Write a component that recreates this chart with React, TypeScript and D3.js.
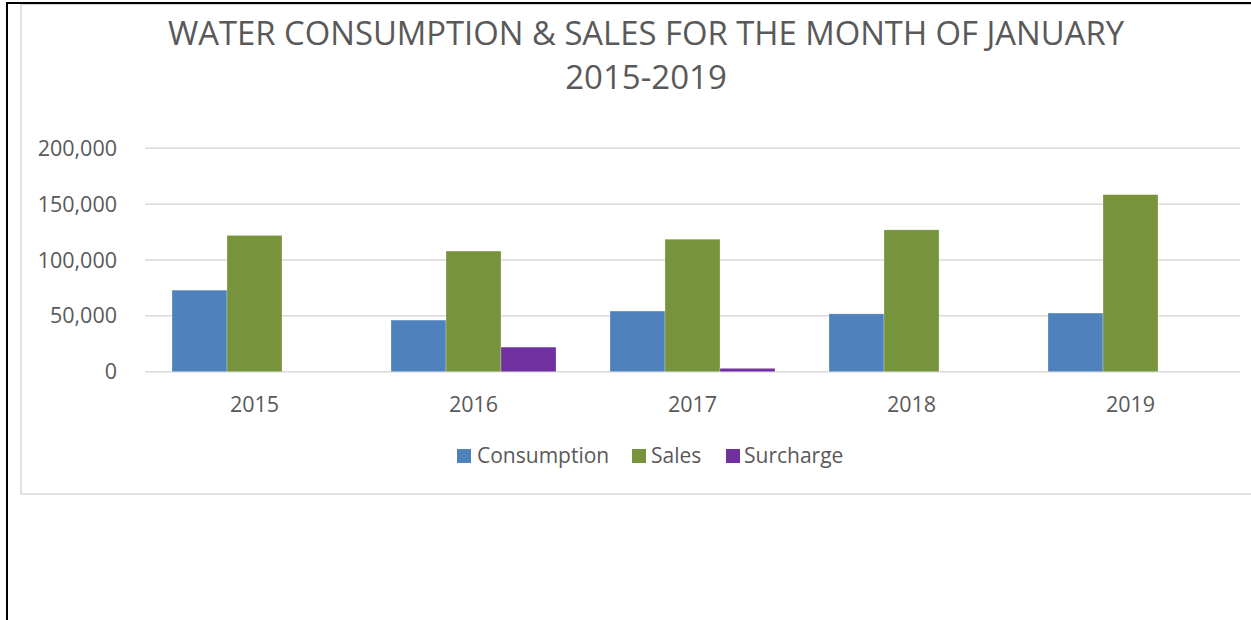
import React from "react";
import * as d3 from "d3";

const years = ["2015", "2016", "2017", "2018", "2019"];
const seriesNames = ["Consumption", "Sales", "Surcharge"];
const consumption = [73000, 46200, 54300, 51800, 52500];
const sales = [122000, 108000, 118600, 127000, 158500];
const surcharge = [0, 22000, 3000, 0, 0];
const yTicks = [0, 50000, 100000, 150000, 200000];
const colors = ["#4F81BD", "#77933C", "#7030A0"];

const W = 1251;
const H = 620;
const FONT = "'Open Sans', sans-serif";
const TXT = "#595959";

export default function App() {
  const values = [consumption, sales, surcharge];
  const x = d3.scaleBand<string>().domain(years).range([145, 1240]).paddingInner(0.2466).paddingOuter(0.1233);
  const xs = d3.scaleBand<string>().domain(seriesNames).range([0, x.bandwidth()]).padding(0);
  const y = d3.scaleLinear().domain([0, 200000]).range([371.7, 148.3]);
  const fmt = d3.format(",");

  const legendItems = [
    { name: "Consumption", sx: 457, tx: 477 },
    { name: "Sales", sx: 632, tx: 651 },
    { name: "Surcharge", sx: 726, tx: 744 },
  ];

  return (
    <svg width={W} height={H} style={{ position: "absolute", left: 0, top: 0, background: "#fff" }} fontFamily={FONT}>
      <rect x={0} y={0} width={W} height={H} fill="#fff" />
      {/* chart area border */}
      <rect x={21} y={4.5} width={1260} height={489.5} fill="#fff" stroke="#D9D9D9" strokeWidth={1.5} />
      {/* black page frame */}
      <line x1={6} y1={3} x2={W} y2={3} stroke="#000" strokeWidth={2} />
      <line x1={7} y1={2} x2={7} y2={H} stroke="#000" strokeWidth={2} />

      {/* title */}
      <text x={646} y={44.5} textAnchor="middle" fontSize={32.8} fill={TXT}>
        WATER CONSUMPTION &amp; SALES FOR THE MONTH OF JANUARY
      </text>
      <text x={646} y={89} textAnchor="middle" fontSize={33} fill={TXT}>
        2015-2019
      </text>

      {/* gridlines */}
      {yTicks.map((t) => (
        <line key={t} x1={145} x2={1240} y1={y(t)} y2={y(t)} stroke="#D9D9D9" strokeWidth={1.5} />
      ))}
      {/* y labels */}
      {yTicks.map((t) => (
        <text key={"l" + t} x={117} y={y(t)} dy="0.35em" textAnchor="end" fontSize={21.5} fill={TXT}>
          {fmt(t)}
        </text>
      ))}

      {/* bars */}
      {years.map((yr, i) => (
        <g key={yr} transform={`translate(${x(yr)},0)`}>
          {seriesNames.map((s, j) => {
            const v = values[j][i];
            if (!v) return null;
            return (
              <rect
                key={s}
                x={xs(s)}
                y={y(v)}
                width={xs.bandwidth()}
                height={y(0) - y(v)}
                fill={colors[j]}
                stroke="#ffffff"
                strokeOpacity={0.35}
                strokeWidth={0.75}
              />
            );
          })}
        </g>
      ))}

      {/* x labels */}
      {years.map((yr) => (
        <text key={"x" + yr} x={(x(yr) as number) + x.bandwidth() / 2} y={404} dy="0.35em" textAnchor="middle" fontSize={21.5} fill={TXT}>
          {yr}
        </text>
      ))}

      {/* legend */}
      {legendItems.map((it, j) => (
        <g key={it.name}>
          <rect x={it.sx} y={449} width={14} height={14} fill={colors[j]} />
          <text x={it.tx} y={456} dy="0.35em" fontSize={21} fill={TXT}>
            {it.name}
          </text>
        </g>
      ))}
    </svg>
  );
}
